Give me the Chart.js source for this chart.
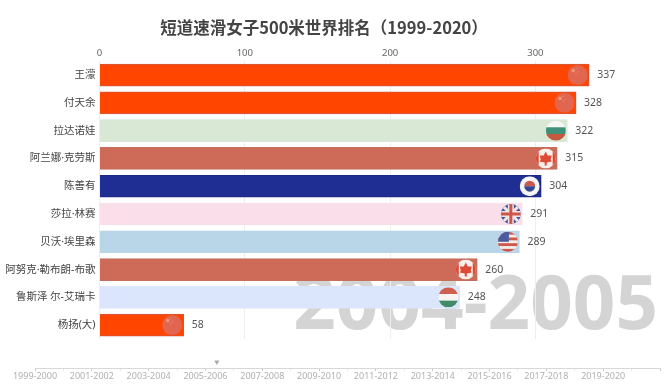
<!DOCTYPE html>
<html>
<head>
<meta charset="utf-8">
<title>短道速滑女子500米世界排名</title>
<script src="https://cdn.jsdelivr.net/npm/chart.js@4/dist/chart.umd.min.js"></script>
<style>
  body { margin: 0; background: #fff; }
  #wrap { position: relative; width: 664px; height: 384px; overflow: hidden; }
  canvas { position: absolute; left: 0; }
  #rank-chart { top: 0; }
  #timeline { top: 354px; }
</style>
</head>
<body>
<div id="wrap">
  <canvas id="rank-chart" width="664" height="384"></canvas>
  <canvas id="timeline" width="664" height="30"></canvas>
</div>
<script>
const names = ['王濛', '付天余', '拉达诺娃', '阿兰娜·克劳斯', '陈善有', '莎拉·林赛', '贝沃·埃里森', '阿努克·勒布朗-布歌', '鲁斯泽 尔-艾瑞卡', '杨扬(大)'];
const points = [337, 328, 322, 315, 304, 291, 289, 260, 248, 58];
const countries = ['CHN', 'CHN', 'BUL', 'CAN', 'KOR', 'GBR', 'USA', 'CAN', 'HUN', 'CHN'];
const xTicks = [0, 100, 200, 300];
const currentSeason = '2004-2005';
const seasonLabels = ['1999-2000', '2001-2002', '2003-2004', '2005-2006', '2007-2008', '2009-2010', '2011-2012', '2013-2014', '2015-2016', '2017-2018', '2019-2020'];
const timelineMarker = [6.4];

const barColors = { CHN: '#ff4500', BUL: '#d9e8d5', CAN: '#cd6b58', KOR: '#1f2e92', GBR: '#fadfea', USA: '#b9d5e8', HUN: '#dbe5fb' };
const barBorders = { CHN: '#cf5a44', BUL: '#d9e8d5', CAN: '#c4705f', KOR: '#1a2880', GBR: '#fadfea', USA: '#b9d5e8', HUN: '#dbe5fb' };

// flags are small round badges, faded a bit like in the original
function drawFlag(ctx, code, x, y, r) {
  ctx.save();
  ctx.beginPath();
  ctx.arc(x, y, r, 0, Math.PI * 2);
  ctx.clip();
  const left = x - r, top = y - r, size = r * 2;
  if (code === 'CHN') {
    ctx.fillStyle = '#e2654f';
    ctx.fillRect(left, top, size, size);
    ctx.fillStyle = '#eb9a7c';
    ctx.fillRect(x - 6, y - 6, 3, 3);
    ctx.fillRect(x - 2, y - 7, 1, 1);
    ctx.fillRect(x, y - 4, 1, 1);
    ctx.fillRect(x - 2, y - 2, 1, 1);
  } else if (code === 'BUL') {
    ctx.fillStyle = '#f6f6f2';
    ctx.fillRect(left, top, size, size / 3);
    ctx.fillStyle = '#3f9078';
    ctx.fillRect(left, top + size / 3, size, size / 3);
    ctx.fillStyle = '#c5583f';
    ctx.fillRect(left, top + size * 2 / 3, size, size / 3);
  } else if (code === 'CAN') {
    ctx.fillStyle = '#f8eeea';
    ctx.fillRect(left, top, size, size);
    ctx.fillStyle = '#de4a35';
    ctx.fillRect(left, top, 3, size);
    ctx.fillRect(x + r - 3, top, 3, size);
    ctx.beginPath();
    ctx.moveTo(x, y - 7);
    ctx.lineTo(x + 2, y - 3);
    ctx.lineTo(x + 6, y - 3);
    ctx.lineTo(x + 5, y + 1);
    ctx.lineTo(x + 6, y + 3);
    ctx.lineTo(x + 1, y + 4);
    ctx.lineTo(x + 1, y + 7);
    ctx.lineTo(x - 1, y + 7);
    ctx.lineTo(x - 1, y + 4);
    ctx.lineTo(x - 6, y + 3);
    ctx.lineTo(x - 5, y + 1);
    ctx.lineTo(x - 6, y - 3);
    ctx.lineTo(x - 2, y - 3);
    ctx.closePath();
    ctx.fill();
  } else if (code === 'KOR') {
    ctx.fillStyle = '#f5f5f5';
    ctx.fillRect(left, top, size, size);
    ctx.fillStyle = '#c9584f';
    ctx.beginPath();
    ctx.arc(x, y, 5.5, Math.PI, 0);
    ctx.fill();
    ctx.fillStyle = '#34478f';
    ctx.beginPath();
    ctx.arc(x, y, 5.5, 0, Math.PI);
    ctx.fill();
  } else if (code === 'GBR') {
    ctx.fillStyle = '#3e5597';
    ctx.fillRect(left, top, size, size);
    ctx.strokeStyle = '#f1e4e6';
    ctx.lineWidth = 3;
    ctx.beginPath();
    ctx.moveTo(left, top);
    ctx.lineTo(x + r, y + r);
    ctx.moveTo(x + r, top);
    ctx.lineTo(left, y + r);
    ctx.stroke();
    ctx.fillStyle = '#f1e4e6';
    ctx.fillRect(x - 3, top, 6, size);
    ctx.fillRect(left, y - 3, size, 6);
    ctx.fillStyle = '#cf5648';
    ctx.fillRect(x - 1.5, top, 3, size);
    ctx.fillRect(left, y - 1.5, size, 3);
  } else if (code === 'USA') {
    for (let i = 0; i < 7; i++) {
      ctx.fillStyle = i % 2 ? '#f3ece8' : '#d0584a';
      ctx.fillRect(left, top + i * size / 7, size, size / 7 + 0.5);
    }
    ctx.fillStyle = '#4a5c9c';
    ctx.fillRect(left, top, r + 1, r);
  } else if (code === 'HUN') {
    ctx.fillStyle = '#cf5f4e';
    ctx.fillRect(left, top, size, size / 3);
    ctx.fillStyle = '#f7f4f2';
    ctx.fillRect(left, top + size / 3, size, size / 3);
    ctx.fillStyle = '#3f8b68';
    ctx.fillRect(left, top + size * 2 / 3, size, size / 3);
  }
  ctx.restore();
}

const seasonWatermark = {
  id: 'seasonWatermark',
  beforeDraw(chart) {
    const ctx = chart.ctx;
    ctx.save();
    ctx.font = 'bold 74.5px "Noto Sans"';
    ctx.fillStyle = '#d4d4d4';
    ctx.textAlign = 'right';
    ctx.textBaseline = 'alphabetic';
    ctx.fillText(currentSeason, 658, 329);
    ctx.restore();
  }
};

const barEnds = {
  id: 'barEnds',
  afterDatasetsDraw(chart) {
    const ctx = chart.ctx;
    chart.getDatasetMeta(0).data.forEach((bar, i) => {
      drawFlag(ctx, countries[i], bar.x - 11.5, bar.y, 10);
      ctx.save();
      ctx.font = '10.5px "Noto Sans", sans-serif';
      ctx.fillStyle = '#555';
      ctx.textBaseline = 'middle';
      ctx.fillText(points[i], bar.x + 8, bar.y);
      ctx.restore();
    });
  }
};

new Chart(document.getElementById('rank-chart'), {
  type: 'bar',
  data: {
    labels: names,
    datasets: [{
      data: points,
      backgroundColor: countries.map(c => barColors[c]),
      borderColor: countries.map(c => barBorders[c]),
      borderWidth: 1,
      barThickness: 22,
    }],
  },
  options: {
    indexAxis: 'y',
    responsive: false,
    animation: false,
    layout: { padding: { right: 16, bottom: 45 } },
    plugins: {
      legend: { display: false },
      tooltip: { enabled: false },
      title: {
        display: true,
        text: '短道速滑女子500米世界排名（1999-2020）',
        color: '#444',
        font: { family: '"Noto Sans CJK SC"', size: 16.5, weight: 'bold' },
        padding: { top: 18, bottom: 8 },
      },
    },
    scales: {
      x: {
        position: 'top',
        min: 0,
        max: 377.5,
        afterBuildTicks(axis) { axis.ticks = xTicks.map(v => ({ value: v })); },
        border: { display: false },
        grid: { color: '#eeeeee', drawTicks: false },
        ticks: { color: '#666', padding: 2, font: { family: '"Noto Sans"', size: 9.5 }, maxRotation: 0 },
      },
      y: {
        afterFit(axis) { axis.width = 99.5; },
        border: { display: false },
        grid: { display: false, drawTicks: false },
        ticks: { color: '#444', padding: 4, font: { family: '"Noto Sans", "Noto Sans CJK SC"', size: 10.5 } },
      },
    },
  },
  plugins: [seasonWatermark, barEnds],
});

// timeline strip under the chart
new Chart(document.getElementById('timeline'), {
  type: 'scatter',
  data: {
    datasets: [{
      data: timelineMarker.map(v => ({ x: v, y: 1 })),
      pointStyle: 'triangle',
      rotation: 180,
      radius: 3,
      backgroundColor: '#aaa',
      borderWidth: 0,
      clip: false,
    }],
  },
  options: {
    responsive: false,
    animation: false,
    layout: { padding: { left: 35, right: 4, top: 8, bottom: 0 } },
    plugins: { legend: { display: false }, tooltip: { enabled: false } },
    scales: {
      x: {
        type: 'linear',
        min: 0,
        max: 22,
        afterFit(axis) { axis.height = 16; },
        border: { color: '#d8d8d8', width: 1 },
        grid: {
          drawOnChartArea: false,
          tickLength: 3,
          color: ctx => (ctx.tick && ctx.tick.value % 2 === 0 ? '#c8c8c8' : '#e8e8e8'),
        },
        ticks: {
          stepSize: 1,
          autoSkip: false,
          maxRotation: 0,
          padding: 0,
          color: '#b0b0b0',
          font: { family: '"Noto Sans"', size: 9 },
          callback: v => (v % 2 === 0 ? (seasonLabels[v / 2] || '') : ''),
        },
      },
      y: { display: false, min: 0, max: 1 },
    },
  },
});
</script>
</body>
</html>
